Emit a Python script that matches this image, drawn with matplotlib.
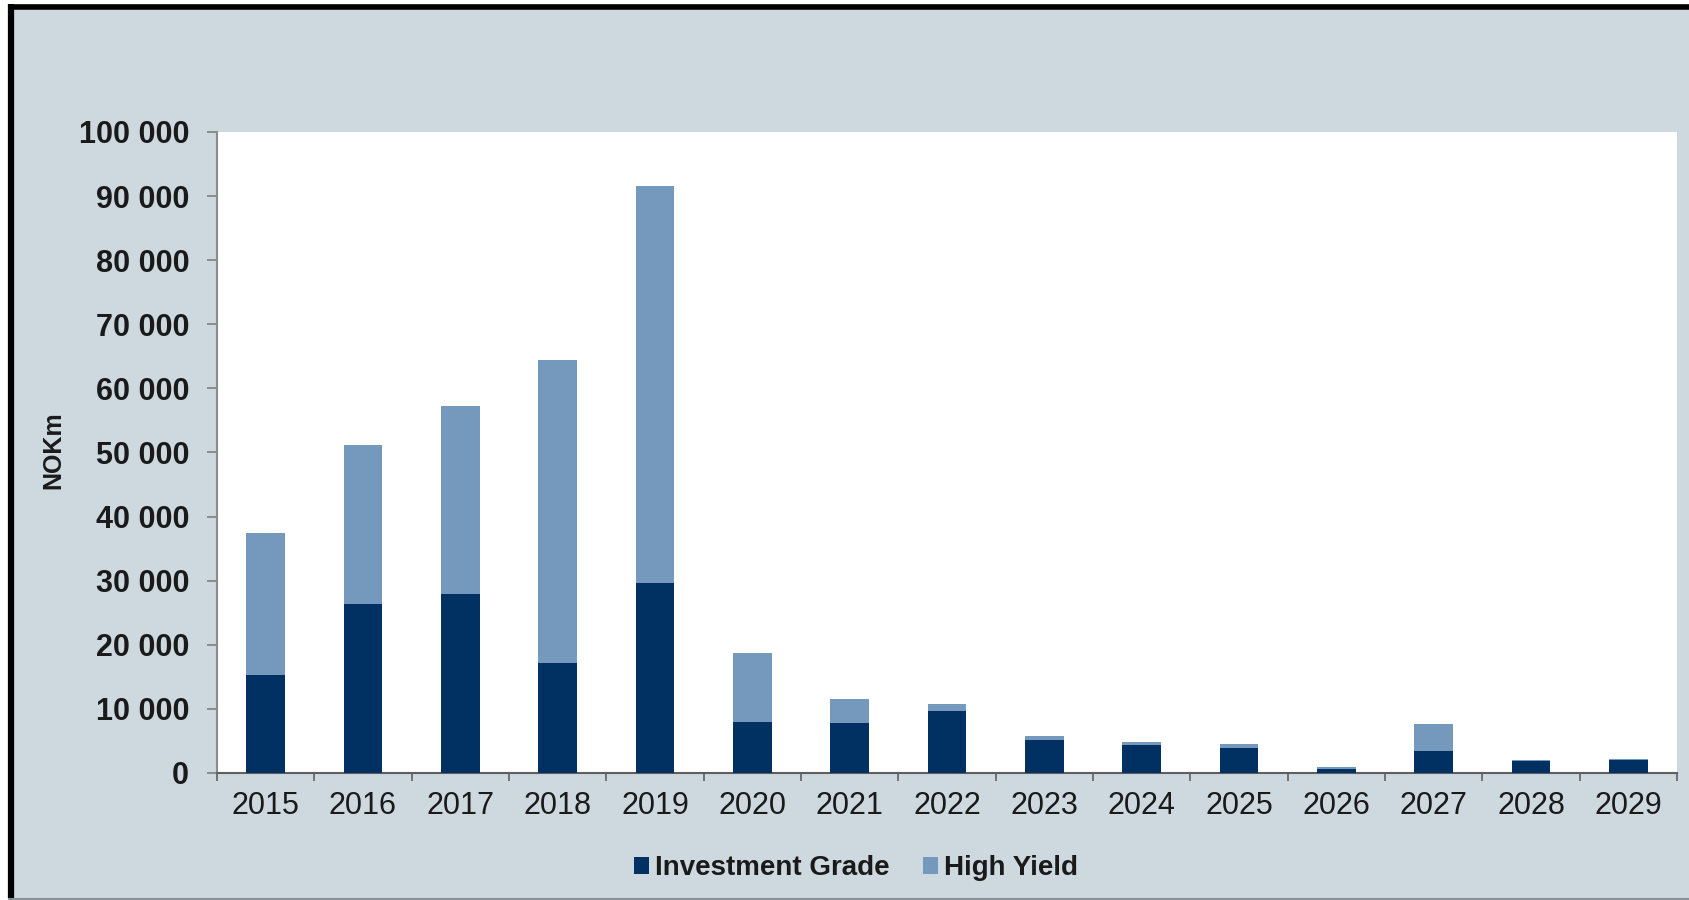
import numpy as np
import matplotlib
matplotlib.use("Agg")
import matplotlib.pyplot as plt
from matplotlib.patches import Rectangle
from matplotlib.lines import Line2D

years = ["2015", "2016", "2017", "2018", "2019", "2020", "2021", "2022",
         "2023", "2024", "2025", "2026", "2027", "2028", "2029"]
investment_grade = [15300, 26400, 28000, 17200, 29600, 7900, 7800, 9600,
                    5200, 4400, 3900, 700, 3500, 1800, 2000]
high_yield = [22100, 24800, 29300, 47200, 61900, 10800, 3700, 1100,
              600, 500, 700, 200, 4200, 200, 200]
y_ticks = [0, 10000, 20000, 30000, 40000, 50000, 60000, 70000, 80000, 90000, 100000]
y_tick_labels = ["0", "10 000", "20 000", "30 000", "40 000", "50 000",
                 "60 000", "70 000", "80 000", "90 000", "100 000"]

BG = "#cdd8df"
IG_COLOR = "#003162"
HY_COLOR = "#7598bd"
TXT = "#1a1a1a"

plt.rcParams['font.family'] = ['Liberation Sans', 'DejaVu Sans']

W, H = 1690, 900
fig = plt.figure(figsize=(W / 100, H / 100), dpi=100, facecolor="white")

def fx(px):
    return px / W

def fy(py):
    return 1 - py / H

# background panel
fig.add_artist(Rectangle((fx(8), fy(898)), 1 - fx(8), fy(4) - fy(898),
                         transform=fig.transFigure, facecolor=BG, edgecolor="none", zorder=0))
# borders
fig.add_artist(Line2D([fx(11), fx(11)], [fy(898), fy(4)], transform=fig.transFigure,
                      color="black", lw=4.5, solid_capstyle="butt"))
fig.add_artist(Line2D([fx(8), 1], [fy(6.5), fy(6.5)], transform=fig.transFigure,
                      color="black", lw=4.0, solid_capstyle="butt"))
fig.add_artist(Line2D([fx(8), 1], [fy(898.5), fy(898.5)], transform=fig.transFigure,
                      color="#8a9399", lw=1.5, solid_capstyle="butt"))

left, right, top, bottom = 217, 1677, 132, 773
ax = fig.add_axes([fx(left), fy(bottom), fx(right - left), fy(top) - fy(bottom)])
ax.set_facecolor("white")

x = np.arange(len(years))
ax.bar(x, investment_grade, width=0.4, color=IG_COLOR, label="Investment Grade", zorder=3)
ax.bar(x, high_yield, width=0.4, bottom=investment_grade, color=HY_COLOR,
       label="High Yield", zorder=3)

ax.set_xlim(-0.5, len(years) - 0.5)
ax.set_ylim(0, 100000)

ax.set_yticks(y_ticks)
ax.set_yticklabels(y_tick_labels, fontsize=22, fontweight="bold", color=TXT)
ax.tick_params(axis="y", direction="out", length=7, width=1.2, color="#7f7f7f", pad=13)

ax.set_xticks(np.arange(-0.5, len(years), 1))
ax.set_xticklabels([])
ax.tick_params(axis="x", which="major", direction="out", length=6, width=1.2, color="#5f5f5f")
ax.set_xticks(x, minor=True)
ax.set_xticklabels(years, minor=True, fontsize=22, color=TXT)
ax.tick_params(axis="x", which="minor", length=0, pad=13)

for s in ["top", "right"]:
    ax.spines[s].set_visible(False)
ax.spines["left"].set_color("#8c8c8c")
ax.spines["left"].set_linewidth(1.5)
ax.spines["bottom"].set_color("#5f5f5f")
ax.spines["bottom"].set_linewidth(1.5)

fig.text(fx(53), fy(450), "NOKm", rotation=90, ha="center", va="center",
         fontsize=18, fontweight="bold", color=TXT)

leg = fig.legend(loc="center", bbox_to_anchor=(fx(856), fy(868)), ncol=2, frameon=False,
                 prop={"size": 20, "weight": "bold"}, handlelength=0.55, handleheight=0.55,
                 handletextpad=0.2, columnspacing=1.2, borderaxespad=0)
for t in leg.get_texts():
    t.set_color(TXT)

fig.savefig("out.png", dpi=100, facecolor="white")
